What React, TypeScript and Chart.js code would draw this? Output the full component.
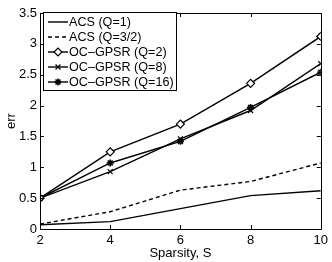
import React, { useEffect, useRef } from "react";
import { Chart, registerables } from "chart.js";
import { drawPoint } from "chart.js/helpers";

Chart.register(...registerables);

const sparsity = [2, 4, 6, 8, 10];
const acsQ1 = [0.07, 0.12, 0.33, 0.54, 0.62];
const acsQ32 = [0.08, 0.28, 0.63, 0.77, 1.07];
const ocQ2 = [0.5, 1.25, 1.7, 2.36, 3.12];
const ocQ8 = [0.5, 0.93, 1.46, 1.92, 2.68];
const ocQ16 = [0.5, 1.07, 1.42, 1.97, 2.54];
const seriesLabels = [
  "ACS (Q=1)",
  "ACS (Q=3/2)",
  "OC\u2013GPSR (Q=2)",
  "OC\u2013GPSR (Q=8)",
  "OC\u2013GPSR (Q=16)",
];
const xTicks = [2, 4, 6, 8, 10];
const yTicks = [0, 0.5, 1, 1.5, 2, 2.5, 3, 3.5];

const FONT = "'Liberation Sans', Arial, sans-serif";
const FS = 13;

const boxPlugin = {
  id: "matlabBox",
  afterDatasetsDraw(chart: any) {
    const { ctx, chartArea: a, scales } = chart;
    ctx.save();
    ctx.strokeStyle = "#000";
    ctx.lineWidth = 1;
    ctx.beginPath();
    ctx.rect(Math.round(a.left) + 0.5, Math.round(a.top) + 0.5, Math.round(a.right - a.left), Math.round(a.bottom - a.top));
    ctx.stroke();
    const tl = 4;
    ctx.beginPath();
    xTicks.forEach((v) => {
      const x = Math.round(scales.x.getPixelForValue(v)) + 0.5;
      ctx.moveTo(x, a.bottom);
      ctx.lineTo(x, a.bottom - tl);
      ctx.moveTo(x, a.top);
      ctx.lineTo(x, a.top + tl);
    });
    yTicks.forEach((v) => {
      const y = Math.round(scales.y.getPixelForValue(v)) + 0.5;
      ctx.moveTo(a.left, y);
      ctx.lineTo(a.left + tl, y);
      ctx.moveTo(a.right, y);
      ctx.lineTo(a.right - tl, y);
    });
    ctx.stroke();
    ctx.restore();
  },
  afterDraw(chart: any) {
    const { ctx } = chart;
    const bx = 43.5, by = 12.5, bw = 133, bh = 78;
    ctx.save();
    ctx.fillStyle = "#fff";
    ctx.fillRect(bx, by, bw, bh);
    ctx.strokeStyle = "#000";
    ctx.lineWidth = 1;
    ctx.strokeRect(bx, by, bw, bh);
    ctx.font = `12.6px ${FONT}`;
    ctx.textBaseline = "middle";
    ctx.textAlign = "left";
    chart.data.datasets.forEach((ds: any, i: number) => {
      const y = 22 + i * 15;
      ctx.strokeStyle = "#000";
      ctx.lineWidth = ds.borderWidth;
      ctx.setLineDash(ds.borderDash || []);
      ctx.beginPath();
      ctx.moveTo(48, y);
      ctx.lineTo(68, y);
      ctx.stroke();
      ctx.setLineDash([]);
      if (ds.pointRadius > 0) {
        ctx.fillStyle = ds.pointBackgroundColor;
        ctx.strokeStyle = "#000";
        ctx.lineWidth = ds.pointBorderWidth;
        drawPoint(ctx, { pointStyle: ds.pointStyle, radius: ds.pointRadius, rotation: 0, borderWidth: ds.pointBorderWidth }, 58, y);
      }
      ctx.fillStyle = "#000";
      ctx.fillText(ds.label, 69, y + 1);
    });
    ctx.restore();
  },
};

export default function App() {
  const ref = useRef<HTMLCanvasElement>(null);
  useEffect(() => {
    document.body.style.margin = "0";
    const mk = (vals: number[]) => sparsity.map((s, i) => ({ x: s, y: vals[i] }));
    const base = {
      borderColor: "#000",
      borderWidth: 1.4,
      pointBorderColor: "#000",
      pointBackgroundColor: "#fff",
      pointBorderWidth: 1.2,
      fill: false,
      tension: 0,
    };
    const chart = new Chart(ref.current!, {
      type: "line",
      data: {
        datasets: [
          { ...base, label: seriesLabels[0], data: mk(acsQ1), pointRadius: 0 },
          { ...base, label: seriesLabels[1], data: mk(acsQ32), pointRadius: 0, borderDash: [4, 3] },
          { ...base, label: seriesLabels[2], data: mk(ocQ2), pointStyle: "rectRot", pointRadius: 4 },
          { ...base, label: seriesLabels[3], data: mk(ocQ8), pointStyle: "crossRot", pointRadius: 3.5 },
          { ...base, label: seriesLabels[4], data: mk(ocQ16), pointStyle: "star", pointRadius: 3.5, pointBorderWidth: 1.6 },
        ] as any,
      },
      options: {
        animation: false,
        responsive: false,
        layout: { padding: { top: 13, right: 10, left: 0, bottom: 0 } },
        plugins: { legend: { display: false }, tooltip: { enabled: false } },
        scales: {
          x: {
            type: "linear",
            min: 2,
            max: 10,
            afterBuildTicks: (s: any) => { s.ticks = xTicks.map((v) => ({ value: v })); },
            afterFit: (s: any) => { s.height = 33; },
            grid: { display: false, drawTicks: false },
            border: { display: false },
            ticks: { color: "#000", font: { family: FONT, size: FS }, padding: 4, maxRotation: 0, callback: (v: any) => String(v) },
            title: { display: true, text: "Sparsity, S", color: "#000", font: { family: FONT, size: FS }, padding: { top: 0, bottom: 1 } },
          },
          y: {
            type: "linear",
            min: 0,
            max: 3.5,
            afterBuildTicks: (s: any) => { s.ticks = yTicks.map((v) => ({ value: v })); },
            afterFit: (s: any) => { s.width = 40; },
            grid: { display: false, drawTicks: false },
            border: { display: false },
            ticks: { color: "#000", font: { family: FONT, size: FS }, padding: 3, callback: (v: any) => String(v) },
            title: { display: true, text: "err", color: "#000", font: { family: FONT, size: FS }, padding: { top: 4, bottom: 0 } },
          },
        },
      } as any,
      plugins: [boxPlugin],
    });
    return () => chart.destroy();
  }, []);
  return <canvas ref={ref} width={332} height={262} style={{ display: "block" }} />;
}
